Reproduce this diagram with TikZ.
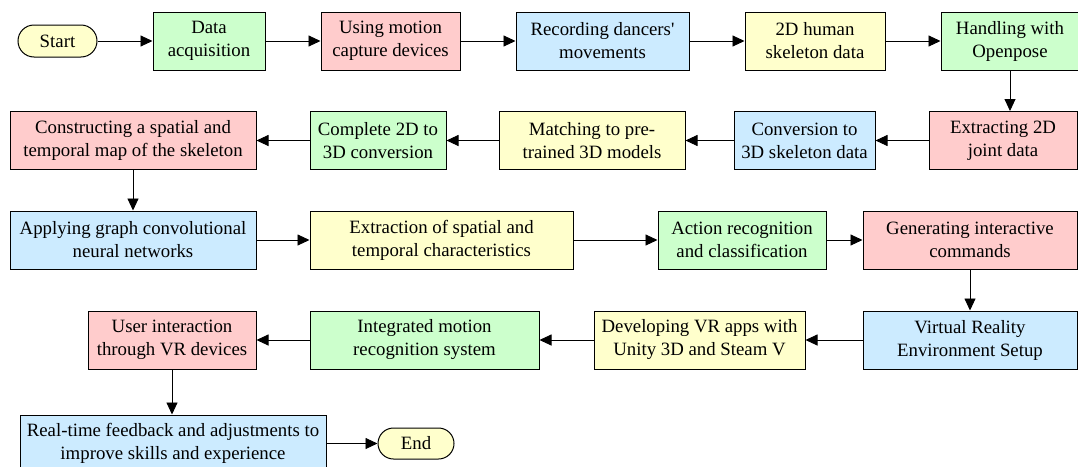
\documentclass[tikz,border=0pt]{standalone}
\usepackage{fontspec}
\setmainfont{Liberation Serif}
\usetikzlibrary{arrows.meta}

\definecolor{cgreen}{HTML}{CCFFCC}
\definecolor{cpink}{HTML}{FFCCCC}
\definecolor{cblue}{HTML}{CCEBFF}
\definecolor{cyellow}{HTML}{FFFFCC}

\tikzset{
  box/.style={draw=black, line width=1pt, rectangle, inner sep=0pt,
    minimum height=58pt, align=center,
    font=\fontsize{18.8}{23}\selectfont},
  term/.style={box, fill=cyellow, minimum height=32pt, rounded corners=16pt},
  arr/.style={line width=0.9pt, -{Triangle[length=12pt,width=11pt]}},
}

\begin{document}
\begin{tikzpicture}[x=1pt, y=-1pt]
\useasboundingbox (0,0) rectangle (1078,466);

% row 1
\node[term, minimum width=79pt] (start) at (57.5,41) {Start};
\node[box, fill=cgreen, minimum width=112pt] (da) at (209,41) {Data\\acquisition};
\node[box, fill=cpink, minimum width=139pt] (um) at (390.5,41) {Using motion\\capture devices};
\node[box, fill=cblue, minimum width=173pt] (rd) at (602.5,41) {Recording dancers\textquotesingle\\movements};
\node[box, fill=cyellow, minimum width=140pt] (hs) at (815,41) {2D human\\skeleton data};
\node[box, fill=cgreen, minimum width=138pt] (ho) at (1010,41) {Handling with\\Openpose};

% row 2
\node[box, fill=cpink, minimum width=148pt] (ex) at (1003,140.5) {Extracting 2D\\joint data};
\node[box, fill=cblue, minimum width=141pt] (cv) at (804.5,140.5) {Conversion to\\3D skeleton data};
\node[box, fill=cyellow, minimum width=186pt] (mt) at (592,140.5) {Matching to pre-\\trained 3D models};
\node[box, fill=cgreen, minimum width=136pt] (c3) at (378,140.5) {Complete 2D to\\3D conversion};
\node[box, fill=cpink, minimum width=246pt] (cs) at (133,140.5) {Constructing a spatial and\\temporal map of the skeleton};

% row 3
\node[box, fill=cblue, minimum width=246pt] (ag) at (133,240) {Applying graph convolutional\\neural networks};
\node[box, fill=cyellow, minimum width=263pt] (es) at (441.5,240) {Extraction of spatial and\\temporal characteristics};
\node[box, fill=cgreen, minimum width=168pt] (ar) at (742,240) {Action recognition\\and classification};
\node[box, fill=cpink, minimum width=214pt] (gc) at (970,240) {Generating interactive\\commands};

% row 4
\node[box, fill=cblue, minimum width=214pt] (vr) at (970,340) {Virtual Reality\\Environment Setup};
\node[box, fill=cyellow, minimum width=211pt] (dv) at (699.5,340) {Developing VR apps with\\Unity 3D and Steam V};
\node[box, fill=cgreen, minimum width=229pt] (im) at (424.5,340) {Integrated motion\\recognition system};
\node[box, fill=cpink, minimum width=168pt] (ui) at (172,340) {User interaction\\through VR devices};

% row 5
\node[box, fill=cblue, minimum width=306pt, minimum height=57pt] (rt) at (173,443.5) {Real-time feedback and adjustments to\\improve skills and experience};
\node[term, minimum width=76pt, minimum height=31pt, rounded corners=15.5pt] (end) at (416,443.5) {End};

% connectors
\draw[arr] (start) -- (da);
\draw[arr] (da) -- (um);
\draw[arr] (um) -- (rd);
\draw[arr] (rd) -- (hs);
\draw[arr] (hs) -- (ho);
\draw[arr] (ho.south) -- (ho.south |- ex.north);
\draw[arr] (ex) -- (cv);
\draw[arr] (cv) -- (mt);
\draw[arr] (mt) -- (c3);
\draw[arr] (c3) -- (cs);
\draw[arr] (cs) -- (ag);
\draw[arr] (ag) -- (es);
\draw[arr] (es) -- (ar);
\draw[arr] (ar) -- (gc);
\draw[arr] (gc) -- (vr);
\draw[arr] (vr) -- (dv);
\draw[arr] (dv) -- (im);
\draw[arr] (im) -- (ui);
\draw[arr] (ui.south) -- (ui.south |- rt.north);
\draw[arr] (rt) -- (end);
\end{tikzpicture}
\end{document}
